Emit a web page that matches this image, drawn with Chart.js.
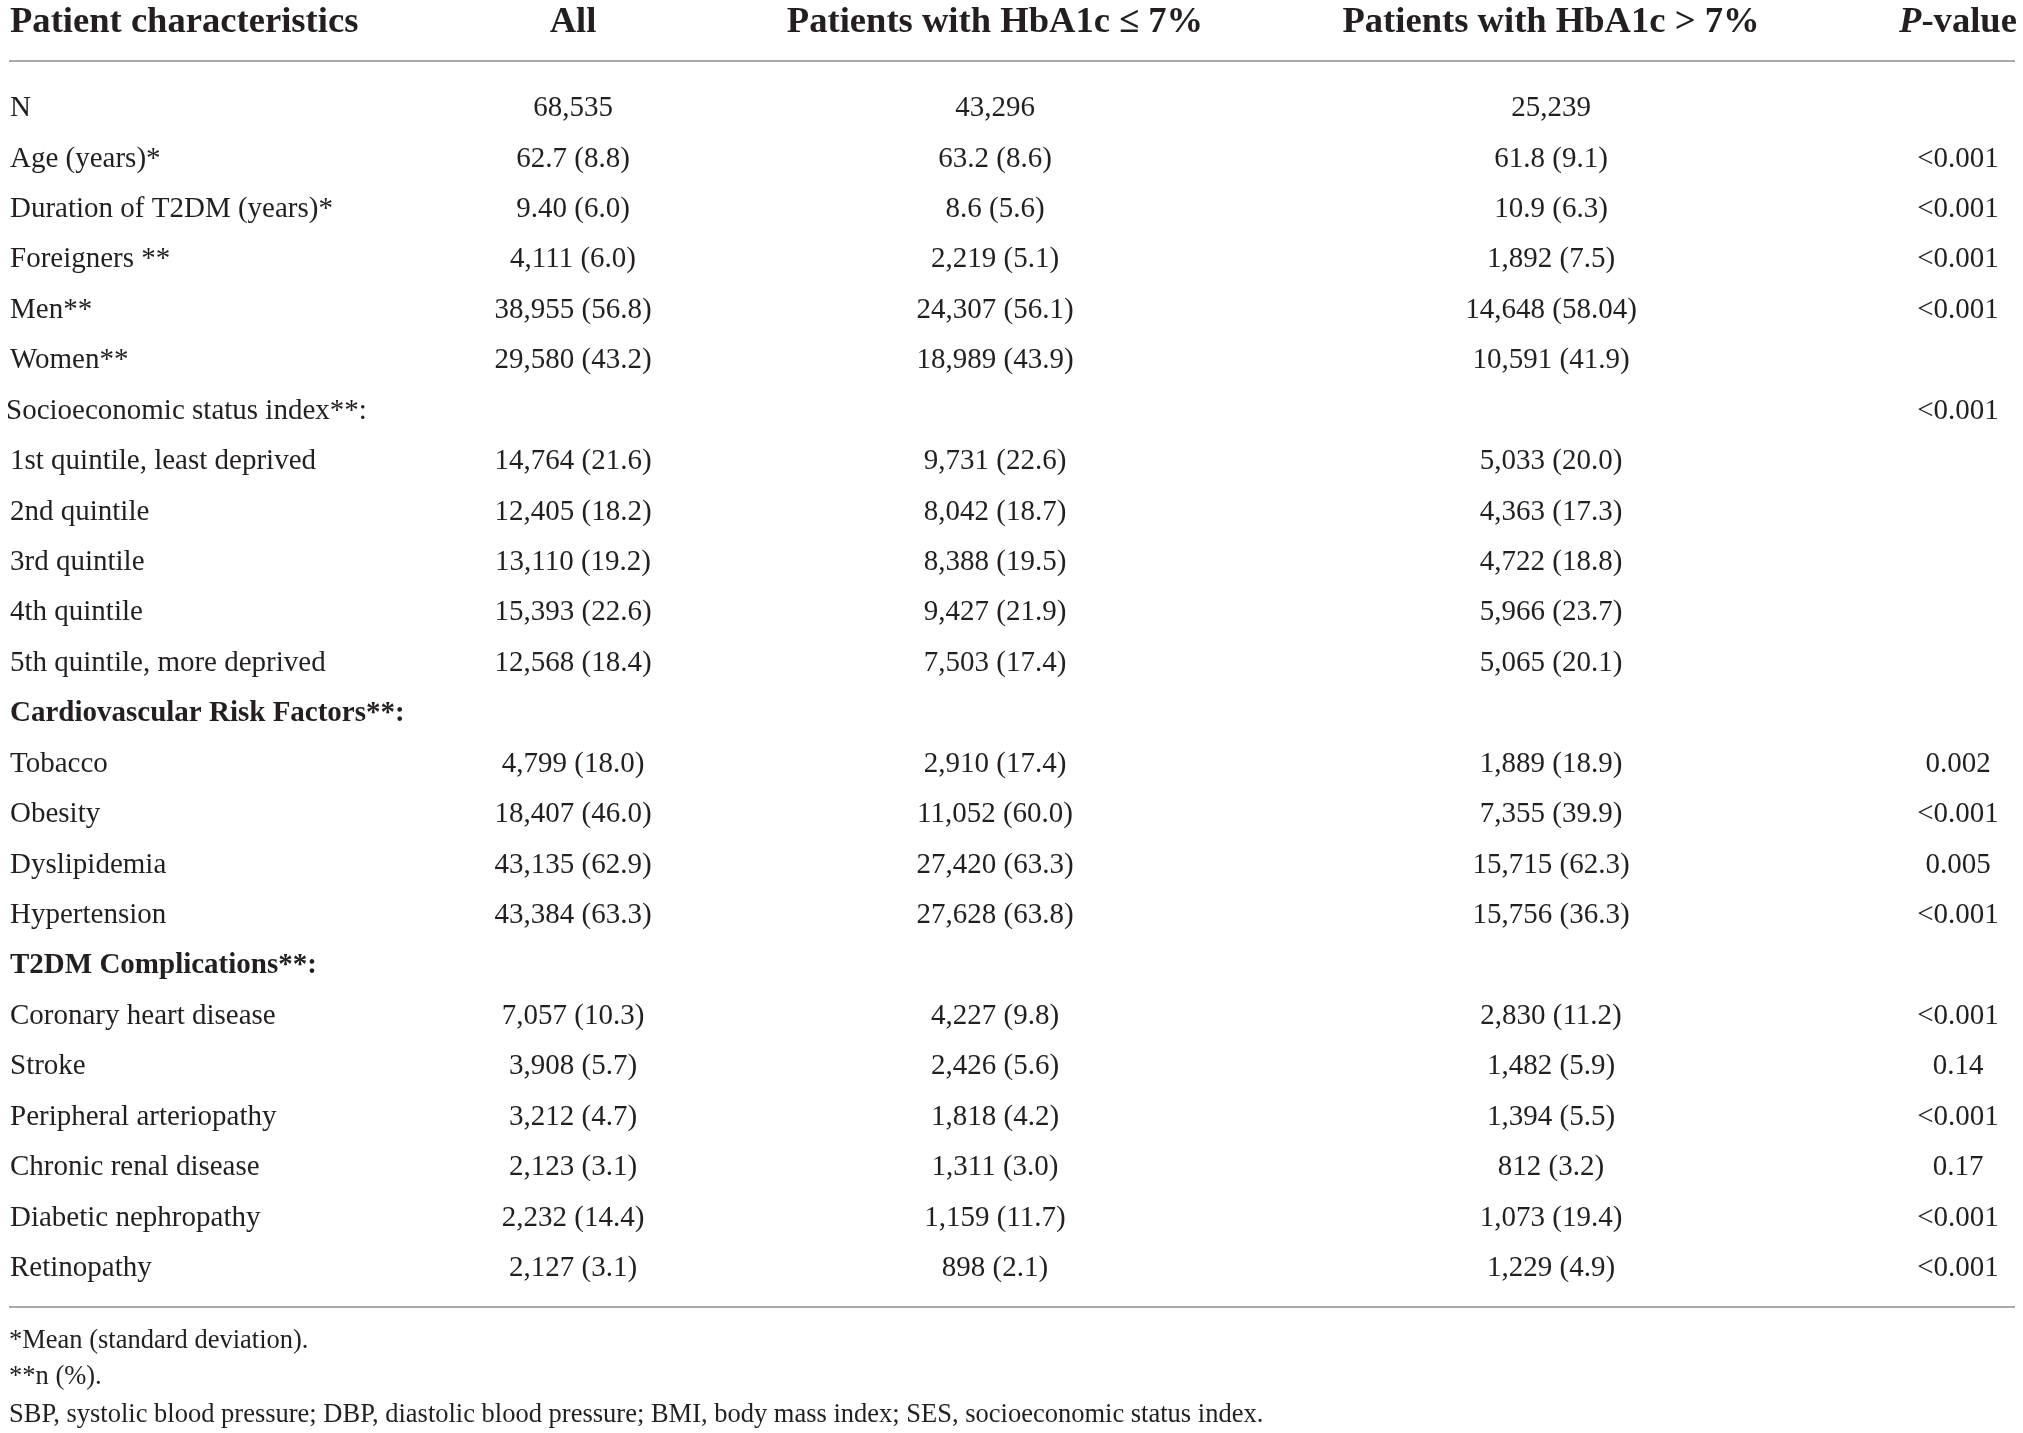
<!DOCTYPE html>
<html>
<head>
<meta charset="utf-8">
<script src="https://cdn.jsdelivr.net/npm/chart.js@4.4.0/dist/chart.umd.min.js"></script>
<style>
  html, body { margin: 0; padding: 0; background: #ffffff; }
  #wrap { width: 2023px; height: 1433px; }
</style>
</head>
<body>
<div id="wrap"><canvas id="tableChart" width="2023" height="1433"></canvas></div>
<script>
// table content
const columnTitles = ["Patient characteristics", "All", "Patients with HbA1c \u2264 7%", "Patients with HbA1c > 7%", "P-value"];

const rowLabels = [
  "N", "Age (years)*", "Duration of T2DM (years)*", "Foreigners **", "Men**", "Women**",
  "Socioeconomic status index**:", "1st quintile, least deprived", "2nd quintile", "3rd quintile",
  "4th quintile", "5th quintile, more deprived", "Cardiovascular Risk Factors**:", "Tobacco",
  "Obesity", "Dyslipidemia", "Hypertension", "T2DM Complications**:", "Coronary heart disease",
  "Stroke", "Peripheral arteriopathy", "Chronic renal disease", "Diabetic nephropathy", "Retinopathy"
];

const allValues = [
  "68,535", "62.7 (8.8)", "9.40 (6.0)", "4,111 (6.0)", "38,955 (56.8)", "29,580 (43.2)",
  "", "14,764 (21.6)", "12,405 (18.2)", "13,110 (19.2)", "15,393 (22.6)", "12,568 (18.4)",
  "", "4,799 (18.0)", "18,407 (46.0)", "43,135 (62.9)", "43,384 (63.3)",
  "", "7,057 (10.3)", "3,908 (5.7)", "3,212 (4.7)", "2,123 (3.1)", "2,232 (14.4)", "2,127 (3.1)"
];

const lowValues = [
  "43,296", "63.2 (8.6)", "8.6 (5.6)", "2,219 (5.1)", "24,307 (56.1)", "18,989 (43.9)",
  "", "9,731 (22.6)", "8,042 (18.7)", "8,388 (19.5)", "9,427 (21.9)", "7,503 (17.4)",
  "", "2,910 (17.4)", "11,052 (60.0)", "27,420 (63.3)", "27,628 (63.8)",
  "", "4,227 (9.8)", "2,426 (5.6)", "1,818 (4.2)", "1,311 (3.0)", "1,159 (11.7)", "898 (2.1)"
];

const highValues = [
  "25,239", "61.8 (9.1)", "10.9 (6.3)", "1,892 (7.5)", "14,648 (58.04)", "10,591 (41.9)",
  "", "5,033 (20.0)", "4,363 (17.3)", "4,722 (18.8)", "5,966 (23.7)", "5,065 (20.1)",
  "", "1,889 (18.9)", "7,355 (39.9)", "15,715 (62.3)", "15,756 (36.3)",
  "", "2,830 (11.2)", "1,482 (5.9)", "1,394 (5.5)", "812 (3.2)", "1,073 (19.4)", "1,229 (4.9)"
];

const pValues = [
  "", "<0.001", "<0.001", "<0.001", "<0.001", "",
  "<0.001", "", "", "", "", "",
  "", "0.002", "<0.001", "0.005", "<0.001",
  "", "<0.001", "0.14", "<0.001", "0.17", "<0.001", "<0.001"
];

const boldRows = ["Cardiovascular Risk Factors**:", "T2DM Complications**:"];

const footnotes = [
  "*Mean (standard deviation).",
  "**n (%).",
  "SBP, systolic blood pressure; DBP, diastolic blood pressure; BMI, body mass index; SES, socioeconomic status index."
];

// layout (x in px of the linear x scale, y in row units)
const columnX = [10, 573, 995, 1551, 1958];
const columnAlign = ["left", "center", "center", "center", "center"];
const headerRow = -1.70;
const topRuleRow = -0.94;
const bottomRuleRow = 23.76;
const footnoteRows = [24.43, 25.15, 25.91];

const TEXT = "#231f20";
const RULE = "#a7a9ac";
const SERIF = '"Liberation Serif", "DejaVu Serif", serif';
const HEAD = "36.6px " + SERIF;
const BODY = "29px " + SERIF;
const NOTE = "26.5px " + SERIF;

const columns = [rowLabels, allValues, lowValues, highValues, pValues];

const tablePlugin = {
  id: "tableText",
  afterDatasetsDraw(chart) {
    const ctx = chart.ctx;
    const x = chart.scales.x;
    const y = chart.scales.y;
    ctx.save();
    ctx.fillStyle = TEXT;
    ctx.textBaseline = "middle";

    // header
    const hy = y.getPixelForValue(headerRow);
    columnTitles.forEach((t, c) => {
      const cx = x.getPixelForValue(columnX[c]);
      if (t === "P-value") {
        ctx.font = "italic bold " + HEAD;
        const w1 = ctx.measureText("P").width;
        ctx.font = "bold " + HEAD;
        const w2 = ctx.measureText("-value").width;
        const start = cx - (w1 + w2) / 2;
        ctx.textAlign = "left";
        ctx.font = "italic bold " + HEAD;
        ctx.fillText("P", start, hy);
        ctx.font = "bold " + HEAD;
        ctx.fillText("-value", start + w1, hy);
      } else {
        ctx.font = "bold " + HEAD;
        ctx.textAlign = columnAlign[c];
        ctx.fillText(t, cx, hy);
      }
    });

    // cells, placed at the points the scales computed
    chart.data.datasets.forEach((ds, d) => {
      const meta = chart.getDatasetMeta(d);
      ctx.textAlign = columnAlign[d];
      meta.data.forEach((pt, i) => {
        const txt = columns[d][i];
        if (!txt) return;
        let px = pt.x;
        if (d === 0 && txt === "Socioeconomic status index**:") px -= 4;
        ctx.font = (d === 0 && boldRows.includes(txt) ? "bold " : "") + BODY;
        ctx.fillText(txt, px, pt.y);
      });
    });

    // rules
    ctx.strokeStyle = RULE;
    ctx.lineWidth = 2;
    [topRuleRow, bottomRuleRow].forEach(r => {
      const ry = Math.round(y.getPixelForValue(r));
      ctx.beginPath();
      ctx.moveTo(x.getPixelForValue(9), ry);
      ctx.lineTo(x.getPixelForValue(2015), ry);
      ctx.stroke();
    });

    // footnotes
    ctx.textAlign = "left";
    ctx.font = NOTE;
    footnotes.forEach((f, i) => {
      ctx.fillText(f, x.getPixelForValue(9), y.getPixelForValue(footnoteRows[i]));
    });
    ctx.restore();
  }
};

function buildChart() {
  const ctx = document.getElementById("tableChart");
  const existingChart = Chart.getChart(ctx);
  if (existingChart) existingChart.destroy();

  const datasets = columns.map((col, c) => ({
    label: columnTitles[c],
    data: col.map((v, i) => ({ x: columnX[c], y: i })),
    pointRadius: 0,
    pointHoverRadius: 0,
    showLine: false
  }));

  new Chart(ctx, {
    type: "scatter",
    data: { datasets: datasets },
    options: {
      responsive: false,
      animation: false,
      devicePixelRatio: 1,
      layout: { padding: { top: 108.5, bottom: 164.5, left: 0, right: 0 } },
      plugins: { legend: { display: false }, tooltip: { enabled: false } },
      events: [],
      scales: {
        x: { type: "linear", min: 0, max: 2023, display: false },
        y: { type: "linear", min: 0, max: 23, reverse: true, display: false }
      }
    },
    plugins: [tablePlugin]
  });
}

if (document.fonts && document.fonts.load) {
  Promise.all([
    document.fonts.load(BODY),
    document.fonts.load("bold " + HEAD),
    document.fonts.load("italic bold " + HEAD)
  ]).then(buildChart, buildChart);
} else {
  buildChart();
}
</script>
</body>
</html>
